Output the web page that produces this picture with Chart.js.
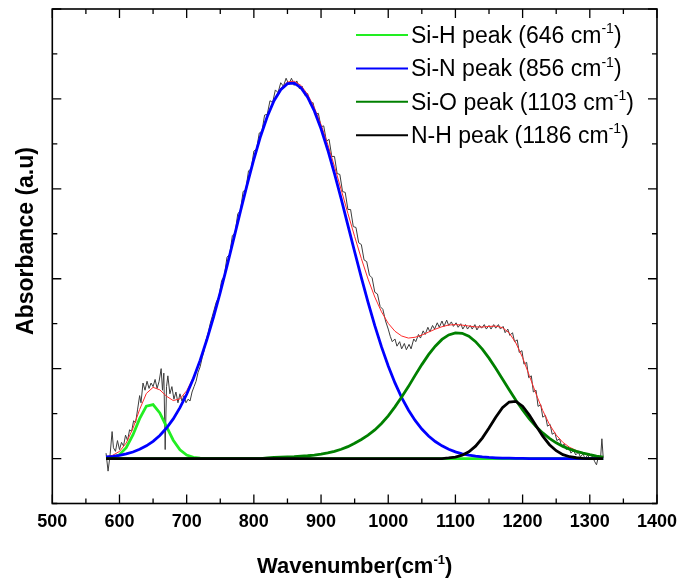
<!DOCTYPE html>
<html>
<head>
<meta charset="utf-8">
<script src="https://cdn.jsdelivr.net/npm/chart.js@4.4.1/dist/chart.umd.min.js"></script>
<style>
	html, body { margin: 0; padding: 0; background: #fff; }
	#wrap { position: relative; width: 685px; height: 578px; }
</style>
</head>
<body>
<div id="wrap"><canvas id="chart-ftir"></canvas></div>
<script>
// grid of the fitted components (cm-1)
const wavenumber = [
	580, 590, 600, 610, 620, 630, 640, 650, 660, 670,
	680, 690, 700, 710, 720, 730, 740, 750, 760, 770,
	780, 790, 800, 810, 820, 830, 840, 850, 860, 870,
	880, 890, 900, 910, 920, 930, 940, 950, 960, 970,
	980, 990, 1000, 1010, 1020, 1030, 1040, 1050, 1060, 1070,
	1080, 1090, 1100, 1110, 1120, 1130, 1140, 1150, 1160, 1170,
	1180, 1190, 1200, 1210, 1220, 1230, 1240, 1250, 1260, 1270,
	1280, 1290, 1300, 1310, 1320
];

const siH = [
	0.003, 0.012, 0.043, 0.121, 0.262, 0.443, 0.583, 0.600, 0.507, 0.354,
	0.204, 0.098, 0.039, 0.013, 0.004, 0, 0, 0, 0, 0,
	0, 0, 0, 0, 0, 0, 0, 0, 0, 0,
	0, 0, 0, 0, 0, 0, 0, 0, 0, 0,
	0, 0, 0, 0, 0, 0, 0, 0, 0, 0,
	0, 0, 0, 0, 0, 0, 0, 0, 0, 0,
	0, 0, 0, 0, 0, 0, 0, 0, 0, 0,
	0, 0, 0, 0, 0
];

const siN = [
	0.017, 0.025, 0.036, 0.052, 0.073, 0.103, 0.141, 0.192, 0.257, 0.339,
	0.441, 0.566, 0.715, 0.890, 1.092, 1.321, 1.574, 1.849, 2.141, 2.444,
	2.749, 3.047, 3.329, 3.585, 3.805, 3.980, 4.103, 4.169, 4.176, 4.125,
	4.020, 3.866, 3.667, 3.432, 3.169, 2.887, 2.594, 2.300, 2.012, 1.736,
	1.478, 1.242, 1.029, 0.841, 0.678, 0.540, 0.424, 0.328, 0.251, 0.189,
	0.141, 0.103, 0.075, 0.053, 0.038, 0.026, 0.018, 0.012, 0.008, 0.005,
	0.004, 0.002, 0.001, 0, 0, 0, 0, 0, 0, 0,
	0, 0, 0, 0, 0
];

const siO = [
	0, 0, 0, 0, 0, 0, 0, 0, 0, 0,
	0, 0, 0, 0, 0, 0, 0, 0, 0, 0,
	0, 0, 0, 0, 0.008, 0.012, 0.015, 0.018, 0.021, 0.026,
	0.031, 0.038, 0.048, 0.062, 0.080, 0.103, 0.132, 0.170, 0.212, 0.260,
	0.318, 0.390, 0.475, 0.575, 0.685, 0.800, 0.925, 1.045, 1.155, 1.250,
	1.325, 1.375, 1.398, 1.393, 1.360, 1.300, 1.217, 1.117, 1.005, 0.886,
	0.765, 0.648, 0.540, 0.440, 0.355, 0.285, 0.225, 0.175, 0.135, 0.105,
	0.080, 0.060, 0.043, 0.028, 0.015
];

const nH = [
	0, 0, 0, 0, 0, 0, 0, 0, 0, 0,
	0, 0, 0, 0, 0, 0, 0, 0, 0, 0,
	0, 0, 0, 0, 0, 0, 0, 0, 0, 0,
	0, 0, 0, 0, 0, 0, 0, 0, 0, 0,
	0, 0, 0, 0, 0, 0, 0, 0, 0, 0,
	0, 0.007, 0.017, 0.038, 0.076, 0.138, 0.228, 0.340, 0.460, 0.565,
	0.629, 0.635, 0.582, 0.483, 0.364, 0.249, 0.154, 0.087, 0.044, 0.020,
	0.009, 0.003, 0, 0, 0
];

// cumulative fit
const fitSum = [
	0.020, 0.037, 0.079, 0.173, 0.335, 0.546, 0.724, 0.792, 0.764, 0.693,
	0.645, 0.664, 0.754, 0.903, 1.096, 1.321, 1.574, 1.849, 2.141, 2.444,
	2.749, 3.047, 3.329, 3.585, 3.813, 3.992, 4.118, 4.187, 4.197, 4.151,
	4.051, 3.904, 3.715, 3.494, 3.249, 2.990, 2.726, 2.470, 2.224, 1.996,
	1.796, 1.632, 1.504, 1.416, 1.363, 1.340, 1.349, 1.373, 1.406, 1.439,
	1.466, 1.485, 1.490, 1.484, 1.474, 1.464, 1.463, 1.469, 1.473, 1.456,
	1.398, 1.285, 1.123, 0.923, 0.719, 0.534, 0.379, 0.262, 0.179, 0.125,
	0.089, 0.063, 0.043, 0.028, 0.015
];

// measured spectrum
const measWn = [
	580, 583, 586, 589, 591, 594, 597, 600, 603, 606,
	609, 612, 615, 618, 621, 624, 627, 630, 632, 635,
	638, 641, 644, 647, 650, 653, 656, 659, 662, 664,
	666, 668, 670, 672, 675, 678, 681, 684, 687, 690,
	693, 696, 699, 702, 705, 708, 711, 714, 717, 720,
	723, 726, 729, 732, 735, 738, 741,
	744, 748, 752, 756, 760, 764, 768, 772, 776, 780,
	784, 788, 792, 796, 800, 804, 808, 812, 816, 820,
	824, 828, 832, 836, 840, 844, 848, 852, 856, 860,
	864, 868, 872, 876, 880, 884, 888, 892, 896, 900,
	904, 908, 912, 916, 920, 924, 928, 932, 936, 940,
	944, 948, 952, 956, 960, 964, 968, 972, 976, 980,
	984, 988, 992, 996, 1000,
	1003, 1006, 1010, 1013, 1017, 1020, 1024, 1027, 1031, 1034,
	1038, 1041, 1045, 1048, 1052, 1055, 1059, 1062, 1066, 1069,
	1073, 1076, 1080, 1083, 1087, 1090, 1094, 1097, 1101, 1104,
	1108, 1111, 1115, 1118, 1122, 1125, 1129, 1132, 1136, 1139,
	1143, 1146, 1150, 1153, 1157, 1160, 1164, 1167, 1171, 1174,
	1178, 1181, 1185, 1188, 1192, 1195, 1199, 1202, 1206, 1209,
	1213, 1216, 1220, 1223, 1227, 1230, 1234, 1237, 1241, 1244,
	1248, 1251, 1255, 1258, 1262, 1265, 1269, 1272, 1276, 1279,
	1283, 1286, 1290, 1293, 1297, 1300, 1304, 1307, 1310, 1313,
	1316, 1318, 1320
];
const measAbs = [
	0.06, -0.14, 0.04, 0.30, 0.12, 0.08, 0.20, 0.10, 0.18, 0.14,
	0.26, 0.20, 0.32, 0.30, 0.42, 0.40, 0.55, 0.70, 0.62, 0.84,
	0.76, 0.86, 0.78, 0.84, 0.80, 0.88, 0.78, 0.86, 1.00, 0.76,
	0.95, 0.10, 0.80, 0.92, 0.72, 0.80, 0.66, 0.74, 0.62, 0.72,
	0.64, 0.70, 0.62, 0.66, 0.64, 0.74, 0.80, 0.86, 0.96, 1.02,
	1.12, 1.20, 1.32, 1.40, 1.50, 1.58, 1.66,
	1.74, 1.80, 1.98, 2.03, 2.24, 2.27, 2.48, 2.51, 2.72, 2.76,
	2.97, 2.99, 3.20, 3.22, 3.42, 3.44, 3.62, 3.64, 3.82, 3.83,
	3.98, 3.96, 4.10, 4.07, 4.18, 4.14, 4.23, 4.16, 4.23, 4.15,
	4.20, 4.11, 4.14, 4.04, 4.06, 3.94, 3.96, 3.83, 3.84, 3.69,
	3.70, 3.53, 3.55, 3.36, 3.36, 3.17, 3.16, 2.97, 2.96, 2.77,
	2.77, 2.58, 2.57, 2.40, 2.38, 2.21, 2.19, 2.04, 2.01, 1.85,
	1.83, 1.69, 1.66, 1.53, 1.44,
	1.36, 1.30, 1.33, 1.25, 1.30, 1.22, 1.28, 1.21, 1.27, 1.22,
	1.33, 1.30, 1.38, 1.34, 1.42, 1.38, 1.46, 1.41, 1.48, 1.44,
	1.51, 1.46, 1.53, 1.47, 1.54, 1.48, 1.52, 1.47, 1.51, 1.46,
	1.50, 1.44, 1.49, 1.44, 1.48, 1.44, 1.49, 1.43, 1.48, 1.45,
	1.49, 1.44, 1.48, 1.44, 1.49, 1.45, 1.49, 1.44, 1.47, 1.40,
	1.44, 1.37, 1.40, 1.30, 1.32, 1.18, 1.20, 1.05, 1.07, 0.90,
	0.92, 0.74, 0.76, 0.58, 0.60, 0.46, 0.48, 0.36, 0.38, 0.27,
	0.29, 0.20, 0.22, 0.14, 0.16, 0.10, 0.12, 0.06, 0.09, 0.04,
	0.07, 0.02, 0.05, 0.00, 0.04, -0.01, 0.03, -0.03, -0.07, 0.03,
	0.00, 0.22, 0.01
];

const peakNames = ['Si-H', 'Si-N', 'Si-O', 'N-H'];
const peakCentres = [646, 856, 1103, 1186];

const FONT = "'Liberation Sans', Arial, sans-serif";
Chart.defaults.font.family = FONT;
Chart.defaults.color = '#000';

function points(xs, ys) {
	return xs.map((x, i) => ({ x: x, y: ys[i] }));
}

// text with "cm-1" written as a superscript
function supParts(text) {
	let m = text.match(/^(.*cm)(-1)(.*)$/);
	return m ? [[m[1], false], [m[2], true], [m[3], false]] : [[text, false]];
}

function drawSupText(ctx, text, x, y, size, weight, align) {
	let parts = supParts(text);
	let supSize = Math.round(size * 0.6);
	let fontOf = sup => weight + ' ' + (sup ? supSize : size) + 'px ' + FONT;
	let total = 0;
	parts.forEach(([t, sup]) => { ctx.font = fontOf(sup); total += ctx.measureText(t).width; });
	let cx = align === 'center' ? x - total / 2 : x;
	ctx.textAlign = 'left';
	ctx.textBaseline = 'alphabetic';
	parts.forEach(([t, sup]) => {
		ctx.font = fontOf(sup);
		ctx.fillText(t, cx, sup ? y - size * 0.42 : y);
		cx += ctx.measureText(t).width;
	});
}

// box with inward ticks on all four sides, plus axis titles
const frame = {
	id: 'frame',
	afterDraw(chart) {
		let ctx = chart.ctx;
		let a = chart.chartArea;
		let xs = chart.scales.x, ys = chart.scales.y;
		ctx.save();
		ctx.strokeStyle = '#000';
		ctx.lineWidth = 1.6;
		ctx.strokeRect(a.left, a.top, a.right - a.left, a.bottom - a.top);

		ctx.lineWidth = 1.3;
		ctx.beginPath();
		xs.ticks.forEach(t => {
			let px = xs.getPixelForValue(t.value);
			let len = t.value % 100 === 0 ? 9 : 5;
			ctx.moveTo(px, a.bottom); ctx.lineTo(px, a.bottom - len);
			ctx.moveTo(px, a.top); ctx.lineTo(px, a.top + len);
		});
		ys.ticks.forEach(t => {
			let py = ys.getPixelForValue(t.value);
			let len = Number.isInteger(t.value) ? 9 : 5;
			ctx.moveTo(a.left, py); ctx.lineTo(a.left + len, py);
			ctx.moveTo(a.right, py); ctx.lineTo(a.right - len, py);
		});
		ctx.stroke();

		ctx.fillStyle = '#000';
		drawSupText(ctx, 'Wavenumber(cm-1)', (a.left + a.right) / 2, 573, 22, 'bold', 'center');

		ctx.translate(33, 241);
		ctx.rotate(-Math.PI / 2);
		ctx.font = 'bold 23px ' + FONT;
		ctx.textAlign = 'center';
		ctx.textBaseline = 'alphabetic';
		ctx.fillText('Absorbance (a.u)', 0, 0);
		ctx.restore();
	}
};

// legend of the four peaks
const peakLegend = {
	id: 'peakLegend',
	afterDraw(chart) {
		let ctx = chart.ctx;
		ctx.save();
		chart.data.datasets.filter(ds => ds.inLegend).forEach((ds, i) => {
			let y = 35 + i * 33.4;
			ctx.strokeStyle = ds.borderColor;
			ctx.lineWidth = 2;
			ctx.beginPath();
			ctx.moveTo(356, y);
			ctx.lineTo(408, y);
			ctx.stroke();
			ctx.fillStyle = '#000';
			drawSupText(ctx, ds.label, 411, y + 7.8, 23, 'normal', 'left');
		});
		ctx.restore();
	}
};

const peakColors = ['#22ee22', '#0000ff', '#008000', '#000000'];
const peakSeries = [siH, siN, siO, nH];

let datasets = peakSeries.map((arr, i) => ({
	label: peakNames[i] + ' peak (' + peakCentres[i] + ' cm-1)',
	data: points(wavenumber, arr),
	borderColor: peakColors[i],
	borderWidth: 2.8,
	pointRadius: 0,
	tension: 0,
	inLegend: true,
	order: 3 - i
}));

datasets.push({
	label: 'Cumulative fit',
	data: points(wavenumber, fitSum),
	borderColor: '#ff2a2a',
	borderWidth: 1,
	pointRadius: 0,
	tension: 0,
	order: 4
});

datasets.push({
	label: 'Measured',
	data: points(measWn, measAbs),
	borderColor: '#3c3c3c',
	borderWidth: 1,
	pointRadius: 0,
	tension: 0,
	order: 5
});

var configChartFtir = {
	type: 'line',
	data: { datasets: datasets },
	options: {
		responsive: true,
		maintainAspectRatio: false,
		devicePixelRatio: 1,
		animation: false,
		layout: {
			padding: { top: 9, right: 26.5, bottom: 0, left: 0 }
		},
		scales: {
			x: {
				type: 'linear',
				min: 500,
				max: 1400,
				grid: { display: false, drawTicks: false },
				border: { display: false },
				ticks: {
					stepSize: 50,
					autoSkip: false,
					maxRotation: 0,
					padding: 8,
					color: '#000',
					font: { size: 18, weight: 'bold' },
					callback: v => v % 100 === 0 ? v : ''
				},
				afterFit: s => { s.height = 74.5; }
			},
			y: {
				min: -0.5,
				max: 5,
				grid: { display: false, drawTicks: false },
				border: { display: false },
				ticks: { stepSize: 0.5, display: false },
				afterFit: s => { s.width = 52.3; }
			}
		},
		plugins: {
			legend: { display: false },
			tooltip: { enabled: false }
		}
	},
	plugins: [frame, peakLegend]
};

var ctx = document.getElementById('chart-ftir').getContext('2d');
var chartFtir = new Chart(ctx, configChartFtir);
</script>
</body>
</html>
